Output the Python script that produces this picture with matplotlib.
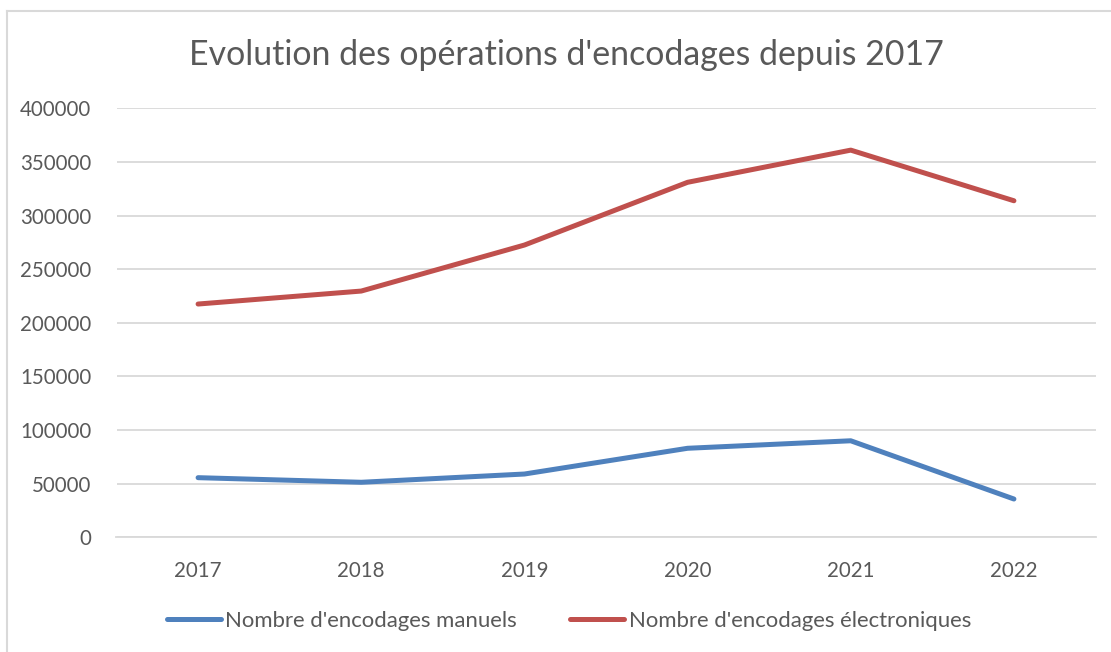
import matplotlib
matplotlib.use("Agg")
import matplotlib.pyplot as plt
from matplotlib.lines import Line2D

years = ["2017", "2018", "2019", "2020", "2021", "2022"]
manuels = [55600, 51300, 59000, 83000, 90000, 35700]
electroniques = [217500, 229600, 272500, 331000, 361000, 313800]
yticks = [0, 50000, 100000, 150000, 200000, 250000, 300000, 350000, 400000]

title = "Evolution des opérations d'encodages depuis 2017"
label_m = "Nombre d'encodages manuels"
label_e = "Nombre d'encodages électroniques"

BLUE = "#4F81BD"
RED = "#C0504D"
TXT = "#595959"
GRID = "#D9D9D9"

plt.rcParams['font.family'] = ['Lato', 'DejaVu Sans']

W, H = 1111, 652
fig = plt.figure(figsize=(W / 100, H / 100), dpi=100)
fig.patch.set_facecolor("white")

# chart frame (left and top border visible)
fig.add_artist(Line2D([7 / W, 7 / W], [0, 1 - 11 / H], transform=fig.transFigure,
                      color=GRID, lw=1.5))
fig.add_artist(Line2D([7 / W, 1], [1 - 11 / H, 1 - 11 / H], transform=fig.transFigure,
                      color=GRID, lw=1.5))

left, right = 116.5 / W, 1095.5 / W
bottom, top = 1 - 537.3 / H, 1 - 108.3 / H
ax = fig.add_axes([left, bottom, right - left, top - bottom])

x = list(range(len(years)))
ax.plot(x, manuels, color=BLUE, lw=3.6, solid_capstyle="round", solid_joinstyle="round",
        label=label_m, zorder=3)
ax.plot(x, electroniques, color=RED, lw=3.6, solid_capstyle="round", solid_joinstyle="round",
        label=label_e, zorder=3)

ax.set_xlim(-0.5, len(years) - 0.5)
ax.set_ylim(0, 400000)
ax.set_yticks(yticks)
ax.set_yticklabels([str(v) for v in yticks])
ax.set_xticks(x)
ax.set_xticklabels(years)

ax.grid(axis="y", color=GRID, lw=1.3)
ax.set_axisbelow(True)
for s in ["left", "right", "top"]:
    ax.spines[s].set_visible(False)
ax.spines["bottom"].set_color(GRID)
ax.spines["bottom"].set_linewidth(1.3)
ax.tick_params(axis="both", length=0, colors=TXT, labelsize=14.8)
ax.tick_params(axis="y", pad=18)
ax.tick_params(axis="x", pad=17)

fig.text(566 / W, 1 - 55 / H, title, ha="center", va="center", fontsize=24.4, color=TXT)

leg = fig.legend(loc="center", bbox_to_anchor=(569 / W, 1 - 621 / H), ncol=2,
                 frameon=False, fontsize=15.9, labelcolor=TXT,
                 handlelength=2.45, handletextpad=0.2, columnspacing=2.4)

fig.savefig("out.png", dpi=100, facecolor="white")
